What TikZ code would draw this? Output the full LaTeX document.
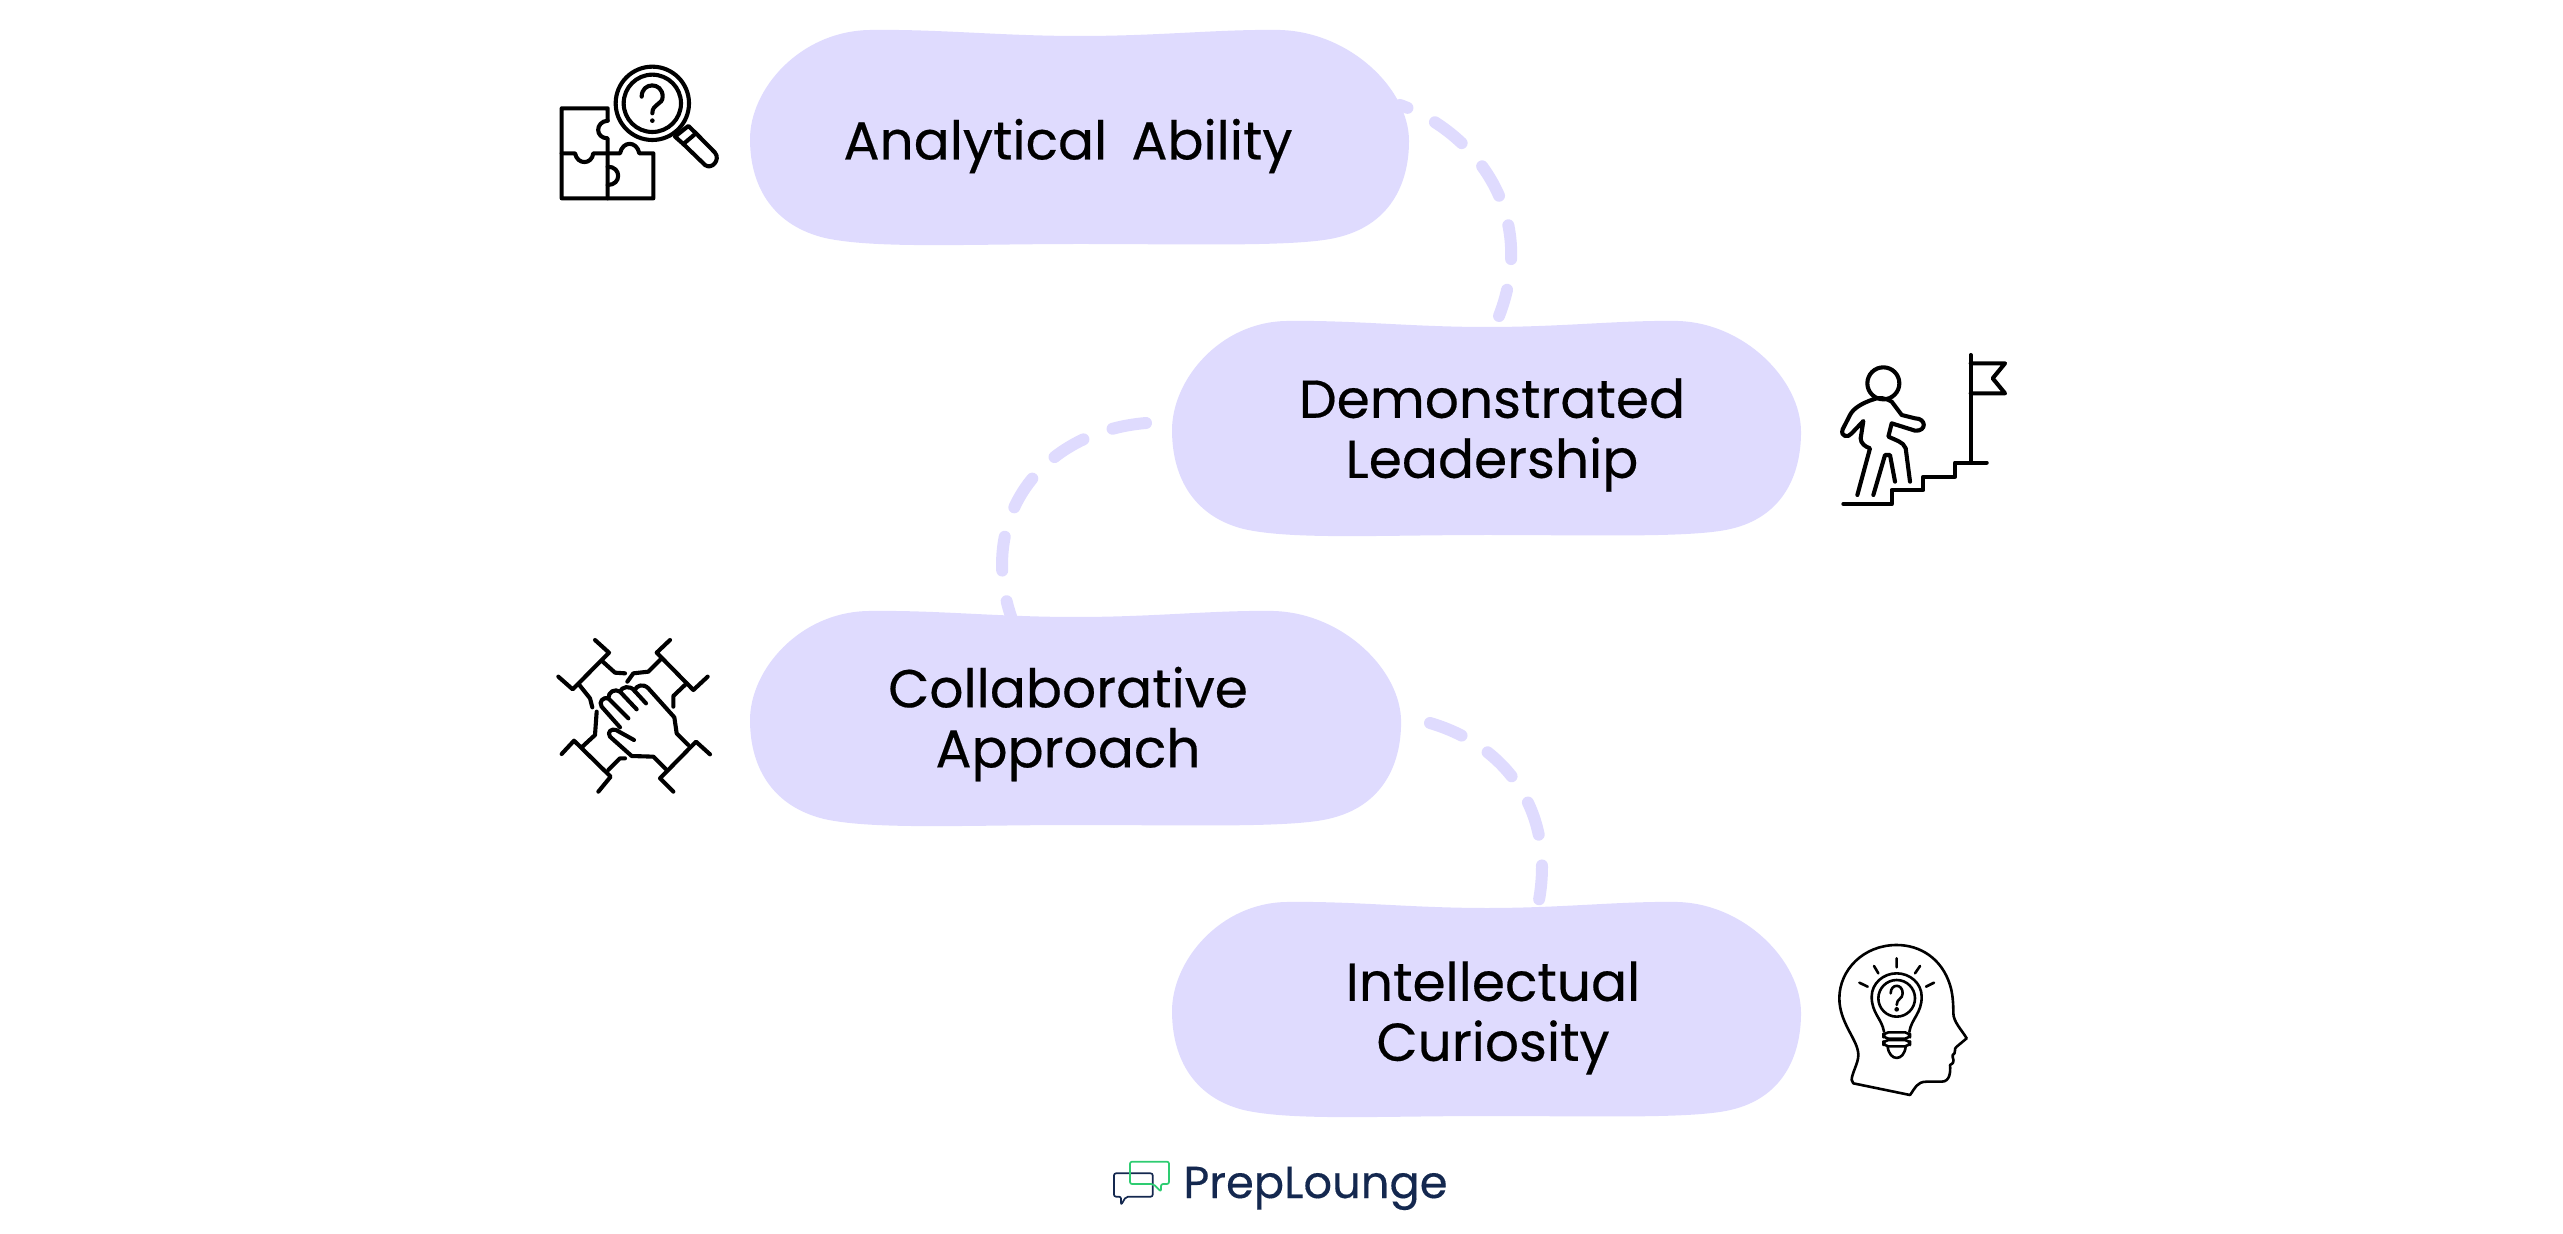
\documentclass[tikz,border=0pt]{standalone}
\usepackage{fontspec}
\setmainfont{Poppins}
\newfontfamily\lblfont{Poppins}[FakeBold=0.35]
\newfontfamily\logofont{Poppins}[FakeBold=0.3]
\definecolor{blobc}{HTML}{DFDBFE}
\definecolor{navy}{HTML}{14284F}
\definecolor{greenc}{HTML}{2ECC71}
\newcommand{\blobpath}{(0,110) .. controls (0,60) and (50,2) .. (120,1)
 .. controls (190,0) and (250,7) .. (330,7)
 .. controls (410,7) and (470,0) .. (530,1)
 .. controls (600,3) and (659,60) .. (659,112)
 .. controls (659,155) and (640,197) .. (585,209)
 .. controls (545,218) and (440,215) .. (330,215)
 .. controls (220,215) and (125,220) .. (75,209)
 .. controls (25,197) and (0,160) .. (0,110) -- cycle}
\tikzset{
 lbl/.style={font=\lblfont\fontsize{26.7pt}{30pt}\selectfont,align=center,text=black,inner sep=0pt},
 conn/.style={draw=blobc,line width=6pt,line cap=round,dash pattern=on 17pt off 15.5pt},
 ico/.style={draw=black,line width=2.05pt,line cap=round,line join=round},
 thin ico/.style={draw=black,line width=1.3pt,line cap=round,line join=round},
 zoomed/.style={x=0.16667pt,y=-0.16667pt}
}
\begin{document}
\begin{tikzpicture}[x=0.5pt,y=-0.5pt]
\useasboundingbox (0,0) rectangle (2563,1234);
% connectors first coordinates
\coordinate (c1a) at (1400,105); \coordinate (c1b) at (1499,316);
\coordinate (c2a) at (1146,423); \coordinate (c2b) at (1013,622);
\coordinate (c3a) at (1430,723); \coordinate (c3b) at (1539,900);
\draw[conn,dash phase=13pt] (c1a) .. controls (1470,130) and (1540,210) .. (c1b);
\draw[conn] (c2a) .. controls (1040,432) and (975,520) .. (c2b);
\draw[conn] (c3a) .. controls (1505,745) and (1555,810) .. (c3b);
% blobs
\begin{scope}[shift={(750,29)}]\fill[blobc] \blobpath;\end{scope}
\begin{scope}[shift={(1172,320)},xscale=0.9545]\fill[blobc] \blobpath;\end{scope}
\begin{scope}[shift={(750,610)},xscale=0.988]\fill[blobc] \blobpath;\end{scope}
\begin{scope}[shift={(1172,901)},xscale=0.9545]\fill[blobc] \blobpath;\end{scope}
% labels
\node[lbl] (n1) at (1068,146) {Analytical\hspace{5pt} Ability};
\node[lbl] (n2) at (1492,435) {Demonstrated\\Leadership};
\node[lbl] (n3) at (1068,724) {Collaborative\\Approach};
\node[lbl] (n4) at (1493,1018) {Intellectual\\Curiosity};
% icon 1
\begin{scope}[shift={(540,50)},zoomed]
\draw[ico] (203,212) .. controls (165,215) and (165,265) .. (203,265) -- (203,445);
\draw[ico] (203,212) -- (203,175) -- (65,175) -- (65,445) -- (340,445) -- (340,310) -- (298,310)
  .. controls (290,272) and (248,272) .. (240,310) -- (203,310);
\draw[ico] (65,310) -- (105,310) .. controls (112,345) and (155,345) .. (160,310) -- (203,310);
\draw[ico] (203,350) .. controls (245,350) and (245,405) .. (203,405);
\draw[ico] (337,160) circle (110);
\draw[ico] (337,160) circle (86);
\draw[ico] (305,140) .. controls (305,95) and (368,95) .. (368,140) .. controls (368,165) and (337,160) .. (337,190);
\fill (337,212) circle (7);
\draw[ico] (430,282) -- (405,260) -- (445,228) -- (468,250);
\draw[ico] (430,282) -- (468,250) -- (525,308) .. controls (542,330) and (515,360) .. (495,345) -- cycle;
\end{scope}
% icon 2
\begin{scope}[shift={(1820,340)},zoomed]
\draw[ico] (190,130) circle (48);
\draw[ico] (452,45) -- (452,365);
\draw[ico] (452,70) -- (555,70) -- (518,115) -- (555,160) -- (452,160);
\draw[ico] (70,492) -- (215,492) -- (215,450) -- (310,450) -- (310,410) -- (405,410) -- (405,368) -- (500,368);
\draw[ico] (160,178) .. controls (125,190) and (100,205) .. (90,225) -- (68,268) .. controls (60,290) and (85,295) .. (95,280) -- (130,243) -- (122,295) .. controls (122,310) and (135,320) .. (150,325) -- (112,465);
\draw[ico] (160,465) -- (195,345) -- (210,345) -- (225,425);
\draw[ico] (270,425) -- (257,325) .. controls (250,305) and (225,300) .. (205,290) -- (215,250) -- (285,272) .. controls (320,275) and (320,235) .. (285,235) -- (245,225) -- (215,185) .. controls (200,175) and (175,170) .. (160,178);
\end{scope}
% icon 3
\begin{scope}[shift={(540,620)},zoomed]
\draw[ico] (165,60) -- (207,98) -- (98,208) -- (55,170);
\draw[ico] (185,122) -- (225,158) -- (255,160);
\draw[ico] (118,195) -- (150,235) -- (157,262);
\draw[ico] (390,60) -- (350,98) -- (460,210) -- (503,170);
\draw[ico] (365,115) -- (325,155) -- (280,160) -- (262,185);
\draw[ico] (440,190) -- (400,228) -- (400,260);
\draw[ico] (65,402) -- (102,362) -- (212,470) -- (175,515);
\draw[ico] (125,382) -- (165,345) -- (170,275);
\draw[ico] (205,450) -- (240,415) -- (255,415);
\draw[ico] (400,515) -- (360,475) -- (468,365) -- (510,403);
\draw[ico] (380,450) -- (340,410) -- (275,408) -- (210,350) .. controls (200,335) and (215,325) .. (228,330) -- (282,360);
\draw[ico] (445,375) -- (410,340) -- (403,292) -- (325,205) .. controls (310,190) and (290,195) .. (283,212) -- (318,250);
\draw[ico] (283,212) .. controls (270,195) and (245,200) .. (240,215) -- (290,268);
\draw[ico] (240,215) .. controls (225,205) and (205,215) .. (205,235) -- (265,295);
\draw[ico] (205,235) .. controls (190,230) and (175,245) .. (185,260) -- (240,322);
\end{scope}
% icon 4
\begin{scope}[shift={(1820,930)},zoomed]
\draw[thin ico] (100,460) -- (270,495) .. controls (285,475) and (290,455) .. (320,455) -- (365,455) .. controls (390,455) and (392,425) .. (390,405) .. controls (410,395) and (395,385) .. (398,375) .. controls (410,370) and (400,355) .. (410,350) -- (440,325) .. controls (425,300) and (400,275) .. (400,250) .. controls (400,220) and (398,190) .. (390,165) .. controls (365,85) and (300,45) .. (230,45) .. controls (130,45) and (58,120) .. (58,205) .. controls (58,280) and (115,330) .. (115,375) .. controls (115,400) and (95,430) .. (95,450) -- (100,460) -- cycle;
\draw[thin ico] (192,305) .. controls (185,265) and (155,250) .. (155,200) .. controls (155,160) and (190,130) .. (230,130) .. controls (270,130) and (305,160) .. (305,200) .. controls (305,250) and (275,265) .. (268,305);
\draw[thin ico] (230,205) circle (55);
\draw[thin ico, rounded corners=2.5pt] (190,307) rectangle (270,326);
\draw[thin ico, rounded corners=2.5pt] (190,330) rectangle (270,349);
\draw[thin ico] (203,350) .. controls (208,395) and (252,395) .. (257,350);
\draw[thin ico] (230,85) -- (230,112) (162,108) -- (175,130) (300,108) -- (285,130) (118,158) -- (143,170) (342,158) -- (318,170);
\draw[thin ico] (212,190) .. controls (212,160) and (248,160) .. (248,190) .. controls (248,208) and (230,205) .. (230,225);
\fill (230,238) circle (7);
\end{scope}
% logo
\begin{scope}[shift={(1090,1140)},zoomed]
\draw[navy,line width=.85pt,line join=round,rounded corners=1pt] (108,170) -- (93,195) -- (93,170) -- (72,170) -- (72,100) -- (188,100) -- (188,170) -- cycle;
\draw[greenc,line width=.85pt,line join=round,rounded corners=1pt] (190,132) -- (213,155) -- (213,132) -- (237,132) -- (237,65) -- (120,65) -- (120,132) -- cycle;
\end{scope}
\node[anchor=base west,inner sep=0pt,text=navy,font=\logofont\fontsize{22.4pt}{22pt}\selectfont] (logo) at (1183,1198) {PrepLounge};
\end{tikzpicture}
\end{document}
